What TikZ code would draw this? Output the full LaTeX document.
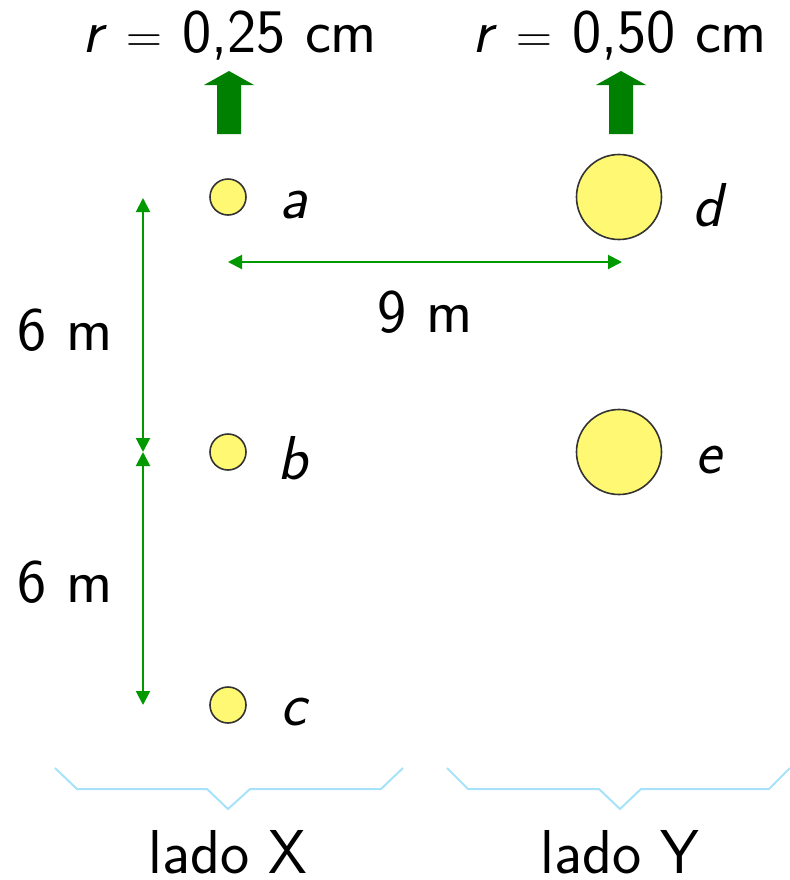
\documentclass[tikz,border=0pt]{standalone}
\usetikzlibrary{arrows.meta}
\begin{document}
\begin{tikzpicture}[x=0.5pt,y=-0.5pt,
  every node/.style={font=\sffamily\fontsize{31}{36}\selectfont, inner sep=0pt},
  ball/.style={circle, draw=black!80, line width=0.8pt, fill=yellow!55, inner sep=0pt},
  smallball/.style={ball, minimum size=18pt},
  bigball/.style={ball, minimum size=42.5pt},
  dimline/.style={draw=green!60!black, line width=1pt, {Triangle[length=7pt,width=7pt]}-{Triangle[length=7pt,width=7pt]}},
  blockarrow/.style={fill=green!50!black},
  bracepath/.style={draw=cyan!35, line width=1pt, line join=miter},
  lbl/.style={font=\sffamily\itshape\fontsize{31}{36}\selectfont}]
\useasboundingbox (0,0) rectangle (790,880);
% balls
\node[smallball] (a) at (228,197) {};
\node[smallball] (b) at (228,452) {};
\node[smallball] (c) at (228,705) {};
\node[bigball] (d) at (619,197) {};
\node[bigball] (e) at (619,452) {};
% labels
\node[lbl] (la) at (293,205) {a};
\node[lbl] (lb) at (293,458) {b};
\node[lbl] (lc) at (293,712) {c};
\node[lbl] (ld) at (708,205) {d};
\node[lbl] (le) at (708,460) {e};
% top texts
\node (r1) at (230,36) {\textit{r} $=$ 0,25 cm};
\node (r2) at (620,36) {\textit{r} $=$ 0,50 cm};
% block arrows
\foreach \cx in {229,621}{
  \fill[blockarrow] (\cx-12,134) -- (\cx-12,85) -- (\cx-25,85) -- (\cx,71) -- (\cx+25,85) -- (\cx+12,85) -- (\cx+12,134) -- cycle;
}
% dimension lines
\coordinate (v1) at (143,198);
\coordinate (v2) at (143,452);
\coordinate (v3) at (143,705);
\draw[dimline] (v1) -- (v2);
\draw[dimline] (v2) -- (v3);
\coordinate (h1) at (228,262);
\coordinate (h2) at (622,262);
\draw[dimline] (h1) -- (h2);
\node (m1) at (65,330) {6 m};
\node (m2) at (65,582) {6 m};
\node (m3) at (425,312) {9 m};
% braces
\draw[bracepath] (55,768) -- (77,789) -- (207,789) -- (228,809) -- (250,789) -- (381,789) -- (403,768);
\draw[bracepath] (447,768) -- (468,789) -- (599,789) -- (620,809) -- (641,789) -- (769,789) -- (790,768);
\node (lx) at (228,852) {lado X};
\node (ly) at (620,852) {lado Y};
\end{tikzpicture}
\end{document}
